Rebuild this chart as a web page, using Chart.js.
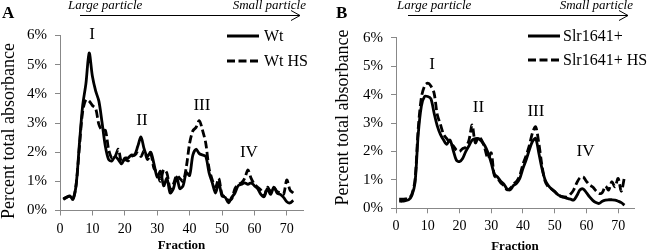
<!DOCTYPE html>
<html><head><meta charset="utf-8">
<script src="https://cdn.jsdelivr.net/npm/chart.js@4.4.0/dist/chart.umd.min.js"></script>
<style>
html,body{margin:0;padding:0;background:#fff;width:650px;height:251px;overflow:hidden}
.p{position:absolute;top:0;width:325px;height:251px}
canvas{display:block}
</style></head><body>
<div class="p" style="left:0"><canvas id="cA" width="325" height="251"></canvas></div>
<div class="p" style="left:325px"><canvas id="cB" width="325" height="251"></canvas></div>
<script>
const fractions = [1,2,3,4,5,6,7,8,9,10,11,12,13,14,15,16,17,18,19,20,21,22,23,24,25,26,27,28,29,30,31,32,33,34,35,36,37,38,39,40,41,42,43,44,45,46,47,48,49,50,51,52,53,54,55,56,57,58,59,60,61,62,63,64,65,66,67,68,69,70,71,72];
const xTicks = [0,10,20,30,40,50,60,70];
const yTicks = [0,1,2,3,4,5,6];

const wt = [0.40,0.45,0.50,0.38,0.90,2.30,3.60,4.35,5.40,4.60,4.10,3.75,3.00,2.20,1.75,1.70,1.85,1.75,1.60,1.80,1.80,1.90,1.90,2.20,2.52,2.10,1.85,2.00,1.60,1.15,1.35,0.85,1.10,0.60,0.75,1.15,0.75,0.85,1.30,1.20,1.90,2.10,1.95,1.90,1.85,1.30,0.95,0.60,0.95,0.50,0.45,0.26,0.45,0.60,0.85,0.90,0.95,0.90,0.95,0.85,0.75,0.55,0.47,0.75,0.55,0.80,0.60,0.55,0.45,0.30,0.26,0.35];
const wtHS = [0.38,0.45,0.48,0.40,0.90,2.20,3.40,3.80,3.75,3.60,3.50,2.95,2.75,2.75,2.10,1.80,1.85,2.10,1.65,1.75,1.70,1.85,1.90,1.97,1.85,2.05,1.75,1.95,1.45,1.30,1.00,1.40,1.28,0.75,0.90,1.20,1.10,1.00,1.50,2.30,2.73,2.85,3.08,2.75,2.30,1.45,1.05,0.80,1.10,0.55,0.45,0.35,0.40,0.75,0.90,0.95,1.10,1.39,1.10,0.90,0.80,0.70,0.50,0.80,0.65,0.80,0.65,0.60,0.55,1.05,0.70,0.60];
const slr = [0.25,0.25,0.27,0.30,0.45,0.90,2.60,3.60,3.93,3.93,3.85,3.35,2.90,2.60,2.40,2.25,2.40,2.05,1.70,1.64,1.75,2.00,2.20,2.40,2.45,2.45,2.35,2.20,1.95,1.60,1.20,1.10,0.95,0.85,0.68,0.65,0.80,0.88,1.05,1.40,1.70,2.05,2.35,2.46,1.95,1.40,1.00,0.80,0.68,0.60,0.48,0.42,0.38,0.35,0.32,0.29,0.45,0.65,0.68,0.55,0.40,0.28,0.20,0.17,0.25,0.29,0.30,0.30,0.29,0.25,0.20,0.11];
const slrHS = [0.32,0.32,0.33,0.35,0.50,1.00,2.80,3.90,4.30,4.40,4.30,4.05,3.30,2.95,2.60,2.45,2.30,2.20,2.05,2.00,2.10,2.15,2.40,2.93,2.30,2.50,2.40,2.10,1.75,1.95,1.15,1.05,0.90,0.80,0.65,0.70,0.85,0.95,1.15,1.55,1.85,2.20,2.65,2.87,2.30,1.50,0.95,0.75,0.68,0.58,0.48,0.42,0.40,0.40,0.50,0.65,0.90,1.08,1.10,0.95,0.82,0.75,0.62,0.52,0.55,0.78,0.64,0.93,0.76,1.05,0.60,1.10];

const SERIF = '"Liberation Serif", "Times New Roman", serif';

const annotPlugin = {
  id: 'annot',
  afterDraw(chart, args, o) {
    const ctx = chart.ctx, ca = chart.chartArea;
    const xs = chart.scales.x, ys = chart.scales.y;
    ctx.save();
    ctx.fillStyle = '#000'; ctx.strokeStyle = '#000';
    // panel letter
    ctx.font = 'bold 17px ' + SERIF;
    ctx.textAlign = 'left'; ctx.textBaseline = 'alphabetic';
    ctx.fillText(o.letter, o.letterX, 18);
    // particle labels
    ctx.font = 'italic 13px ' + SERIF;
    ctx.fillText('Large particle', o.largeX, 9);
    ctx.textAlign = 'right';
    ctx.fillText('Small particle', o.smallR, 9);
    // arrow
    ctx.lineWidth = 1;
    ctx.beginPath();
    ctx.moveTo(o.arrowX1, 15.5); ctx.lineTo(o.arrowX2, 15.5);
    ctx.moveTo(o.arrowX2 - 9, 10.5); ctx.lineTo(o.arrowX2, 15.5); ctx.lineTo(o.arrowX2 - 9, 20.5);
    ctx.stroke();
    // peak labels
    ctx.font = '17px ' + SERIF;
    ctx.textAlign = 'center'; ctx.textBaseline = 'middle';
    o.peaks.forEach(p => ctx.fillText(p.t, xs.getPixelForValue(p.x), ys.getPixelForValue(p.y)));
    // legend
    ctx.font = '16px ' + SERIF;
    ctx.textAlign = 'left'; ctx.textBaseline = 'middle';
    chart.data.datasets.forEach((ds, i) => {
      const y = o.legY[i];
      ctx.lineWidth = 3;
      ctx.setLineDash(ds.borderDash || []);
      ctx.beginPath(); ctx.moveTo(o.legX1, y); ctx.lineTo(o.legX2, y); ctx.stroke();
      ctx.setLineDash([]);
      ctx.fillText(ds.label, o.legX2 + o.legGap, y + 1);
    });
    // axis titles
    ctx.font = 'bold 13px ' + SERIF;
    ctx.textAlign = 'center';
    ctx.fillText('Fraction', (ca.left + ca.right) / 2, o.xtY);
    ctx.translate(o.ytX, o.ytY);
    ctx.rotate(-Math.PI / 2);
    ctx.font = '18px ' + SERIF;
    ctx.fillText('Percent total absorbance', 0, 0);
    ctx.restore();
  }
};

function makeChart(id, s1, s2, names, cfg) {
  const mk = arr => fractions.map((f, i) => ({ x: f, y: arr[i] }));
  const base = { borderColor: '#000', backgroundColor: '#000', borderWidth: 2.8, pointRadius: 0, tension: 0.3, fill: false, borderJoinStyle: 'round' };
  return new Chart(document.getElementById(id), {
    type: 'line',
    data: { datasets: [
      Object.assign({ label: names[0], data: mk(s1) }, base),
      Object.assign({ label: names[1], data: mk(s2), borderDash: [8, 3.5] }, base)
    ] },
    options: {
      responsive: false, animation: false, devicePixelRatio: 1,
      layout: { padding: { left: 0, right: cfg.padRight, top: cfg.top, bottom: 0 } },
      plugins: { legend: { display: false }, tooltip: { enabled: false }, annot: cfg },
      scales: {
        x: {
          type: 'linear', min: 0, max: 75,
          afterBuildTicks: s => { s.ticks = xTicks.map(v => ({ value: v })); },
          afterFit: s => { s.height = cfg.xH; },
          ticks: { font: { family: SERIF, size: 14 }, color: '#000', padding: 5, maxRotation: 0, autoSkip: false },
          grid: { display: true, drawOnChartArea: false, drawTicks: true, tickLength: 5, color: '#888' },
          border: { display: true, color: '#888', width: 1 }
        },
        y: {
          type: 'linear', min: 0, max: 6,
          afterBuildTicks: s => { s.ticks = yTicks.map(v => ({ value: v })); },
          afterFit: s => { s.width = cfg.left; },
          ticks: { font: { family: SERIF, size: 15 }, color: '#000', padding: 8, callback: v => v + '%' },
          grid: { display: true, drawOnChartArea: false, drawTicks: true, tickLength: 5, color: '#888' },
          border: { display: true, color: '#888', width: 1 }
        }
      }
    },
    plugins: [annotPlugin]
  });
}

makeChart('cA', wt, wtHS, ['Wt', 'Wt HS'], {
  left: 60, padRight: 22, top: 35.5, xH: 40.5,
  letter: 'A', letterX: 2, largeX: 68, smallR: 306, arrowX1: 80, arrowX2: 300,
  peaks: [{ t: 'I', x: 9.9, y: 6.04 }, { t: 'II', x: 25.3, y: 3.1 }, { t: 'III', x: 43.8, y: 3.6 }, { t: 'IV', x: 58.3, y: 2.0 }],
  legX1: 227, legX2: 259, legGap: 5, legY: [36, 61],
  xtY: 246, ytX: 9, ytY: 131
});
makeChart('cB', slr, slrHS, ['Slr1641+', 'Slr1641+ HS'], {
  left: 71, padRight: 16, top: 37.7, xH: 42.7,
  letter: 'B', letterX: 11, largeX: 72, smallR: 308, arrowX1: 83, arrowX2: 303,
  peaks: [{ t: 'I', x: 11.4, y: 5.04 }, { t: 'II', x: 26, y: 3.56 }, { t: 'III', x: 44.1, y: 3.39 }, { t: 'IV', x: 59.7, y: 1.98 }],
  legX1: 203, legX2: 235, legGap: 3, legY: [36, 60],
  xtY: 246.5, ytX: 18, ytY: 117.5
});
</script>
</body></html>
